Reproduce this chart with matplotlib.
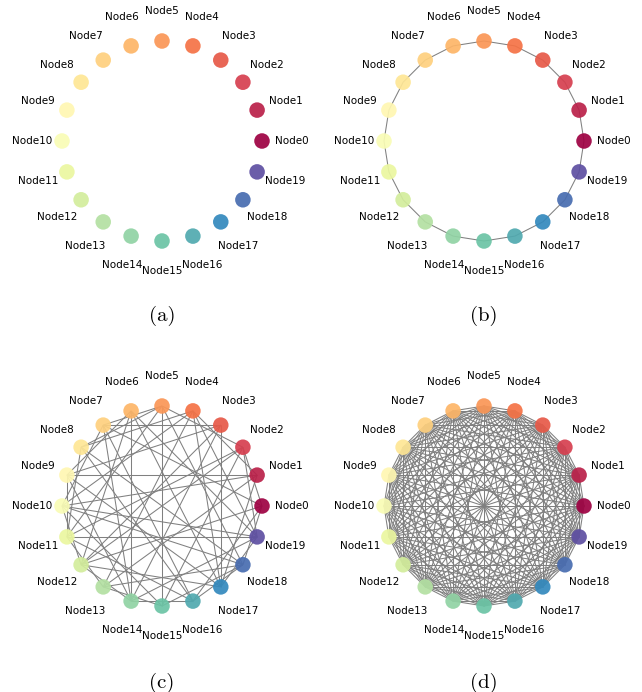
import numpy as np
import matplotlib
matplotlib.use('Agg')
import matplotlib.pyplot as plt
from matplotlib.collections import LineCollection

n_nodes = 20
node_labels = ['Node%d' % i for i in range(n_nodes)]
captions = ['(a)', '(b)', '(c)', '(d)']

# ring: each node linked to its neighbour
ring_edges = [(i, (i + 1) % n_nodes) for i in range(n_nodes)]

# sparse random graph
random_edges = [
    (0, 2), (0, 7), (0, 12), (0, 16), (0, 18),
    (1, 9), (1, 4), (1, 13), (1, 17), (1, 10),
    (2, 5), (2, 12), (2, 11), (2, 15), (2, 19),
    (3, 7), (3, 17), (3, 12), (3, 9), (3, 14),
    (4, 8), (4, 13), (4, 17), (4, 19), (4, 10),
    (5, 15), (5, 7), (5, 11), (5, 18), (5, 8),
    (6, 14), (6, 9), (6, 17), (6, 12), (6, 19),
    (7, 14), (7, 16), (7, 10),
    (8, 11), (8, 16), (8, 18),
    (9, 11), (9, 17), (9, 14),
    (10, 12), (10, 15), (10, 18), (10, 19),
    (11, 13), (11, 19), (11, 16),
    (12, 14), (12, 17),
    (13, 15), (13, 18),
    (14, 16), (14, 19),
    (15, 18), (16, 18), (17, 19),
]

# fully connected graph
complete_edges = [(i, j) for i in range(n_nodes) for j in range(i + 1, n_nodes)]

panel_edges = [[], ring_edges, random_edges, complete_edges]


def circular_pos(n):
    ang = 2 * np.pi * np.arange(n) / n
    return np.column_stack([np.cos(ang), np.sin(ang)])


def draw_graph(ax, pos, edges):
    if edges:
        segs = [[pos[a], pos[b]] for a, b in edges]
        ax.add_collection(LineCollection(segs, colors='#808080', linewidths=0.75, zorder=1))
    cols = plt.cm.Spectral(np.arange(n_nodes) / (n_nodes - 1))
    ax.scatter(pos[:, 0], pos[:, 1], s=125, c=cols, alpha=0.92, edgecolors='none', zorder=2)
    for i, (x, y) in enumerate(pos):
        ax.text(1.3 * x, 1.3 * y, node_labels[i], ha='center', va='center',
                fontsize=7.5, color='black', zorder=3)
    ax.set_xlim(-1.4, 1.4)
    ax.set_ylim(-1.4, 1.4)
    ax.set_aspect('equal')
    ax.axis('off')


W, H = 642, 692
fig = plt.figure(figsize=(W / 100, H / 100), dpi=100)
pos = circular_pos(n_nodes)

# panel centres (px from top-left), circle radius 100 px
centres = [(162, 141), (484, 141), (162, 506), (484, 506)]
caption_y = [316, 316, 683, 683]
half = 140

for k in range(4):
    cx, cy = centres[k]
    ax = fig.add_axes([(cx - half) / W, (H - cy - half) / H, 2 * half / W, 2 * half / H])
    draw_graph(ax, pos, panel_edges[k])
    fig.text(cx / W, 1 - caption_y[k] / H, captions[k], ha='center', va='center',
             fontsize=15, family='cmr10')

fig.savefig('out.png', dpi=100)
